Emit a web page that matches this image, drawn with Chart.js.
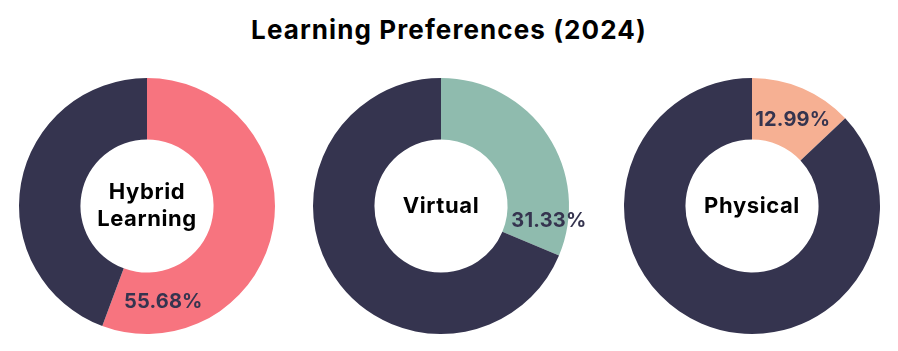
<!DOCTYPE html>
<html>
<head>
<meta charset="utf-8">
<script src="https://cdn.jsdelivr.net/npm/chart.js@4"></script>
<style>
  html, body { margin: 0; padding: 0; background: #fff; }
  body { width: 898px; height: 351px; position: relative; overflow: hidden; font-family: Inter, "Noto Sans", sans-serif; }
  #title { position: absolute; left: 0; top: 14px; width: 898px; text-align: center; font-size: 26px; font-weight: 700; color: #000; letter-spacing: 1.1px; }
  .donut { position: absolute; width: 290px; height: 290px; top: 61px; }
</style>
</head>
<body>
<div id="title">Learning Preferences (2024)</div>
<div class="donut" style="left:2px"><canvas id="c0"></canvas></div>
<div class="donut" style="left:296px"><canvas id="c1"></canvas></div>
<div class="donut" style="left:607px"><canvas id="c2"></canvas></div>
<script>
const categories = ["Hybrid Learning", "Virtual", "Physical"];
const centerLines = [["Hybrid", "Learning"], ["Virtual"], ["Physical"]];
const shares = [55.68, 31.33, 12.99];
const highlight = ["#f7747f", "#8fbbae", "#f6b093"];
const restColor = "#35344f";

// where each percentage sits: fraction along the coloured arc, fraction across the ring
const labelAlong = [0.85, 0.87, 0.54];
const labelAcross = [0.5, 0.69, 0.47];

const donutLabels = {
  id: "donutLabels",
  afterDraw(chart, args, opts) {
    const ctx = chart.ctx;
    const arc = chart.getDatasetMeta(0).data[0];
    const { x, y, startAngle, endAngle, innerRadius, outerRadius } = arc.getProps(
      ["x", "y", "startAngle", "endAngle", "innerRadius", "outerRadius"], true);

    ctx.save();
    ctx.textAlign = "center";
    ctx.textBaseline = "middle";
    ctx.fillStyle = "#000";
    ctx.font = "700 22px Inter, 'Noto Sans', sans-serif";
    ctx.letterSpacing = "0.6px";
    const lines = opts.lines;
    const lh = 27;
    lines.forEach((line, i) => {
      ctx.fillText(line, x, y + (i - (lines.length - 1) / 2) * lh);
    });

    const a = startAngle + (endAngle - startAngle) * opts.along;
    const r = innerRadius + (outerRadius - innerRadius) * opts.across;
    ctx.fillStyle = restColor;
    ctx.font = "700 20px Inter, 'Noto Sans', sans-serif";
    ctx.letterSpacing = "0.2px";
    ctx.fillText(opts.value.toFixed(2) + "%", x + Math.cos(a) * r, y + Math.sin(a) * r);
    ctx.restore();
  },
};

categories.forEach((name, i) => {
  new Chart(document.getElementById("c" + i), {
    type: "doughnut",
    data: {
      labels: [name, "Other"],
      datasets: [{
        data: [shares[i], +(100 - shares[i]).toFixed(2)],
        backgroundColor: [highlight[i], restColor],
        borderWidth: 0,
      }],
    },
    options: {
      responsive: true,
      maintainAspectRatio: false,
      animation: false,
      cutout: "52%",
      layout: { padding: 17 },
      plugins: {
        legend: { display: false },
        tooltip: { enabled: false },
        donutLabels: {
          lines: centerLines[i],
          value: shares[i],
          along: labelAlong[i],
          across: labelAcross[i],
        },
      },
    },
    plugins: [donutLabels],
  });
});
</script>
</body>
</html>
